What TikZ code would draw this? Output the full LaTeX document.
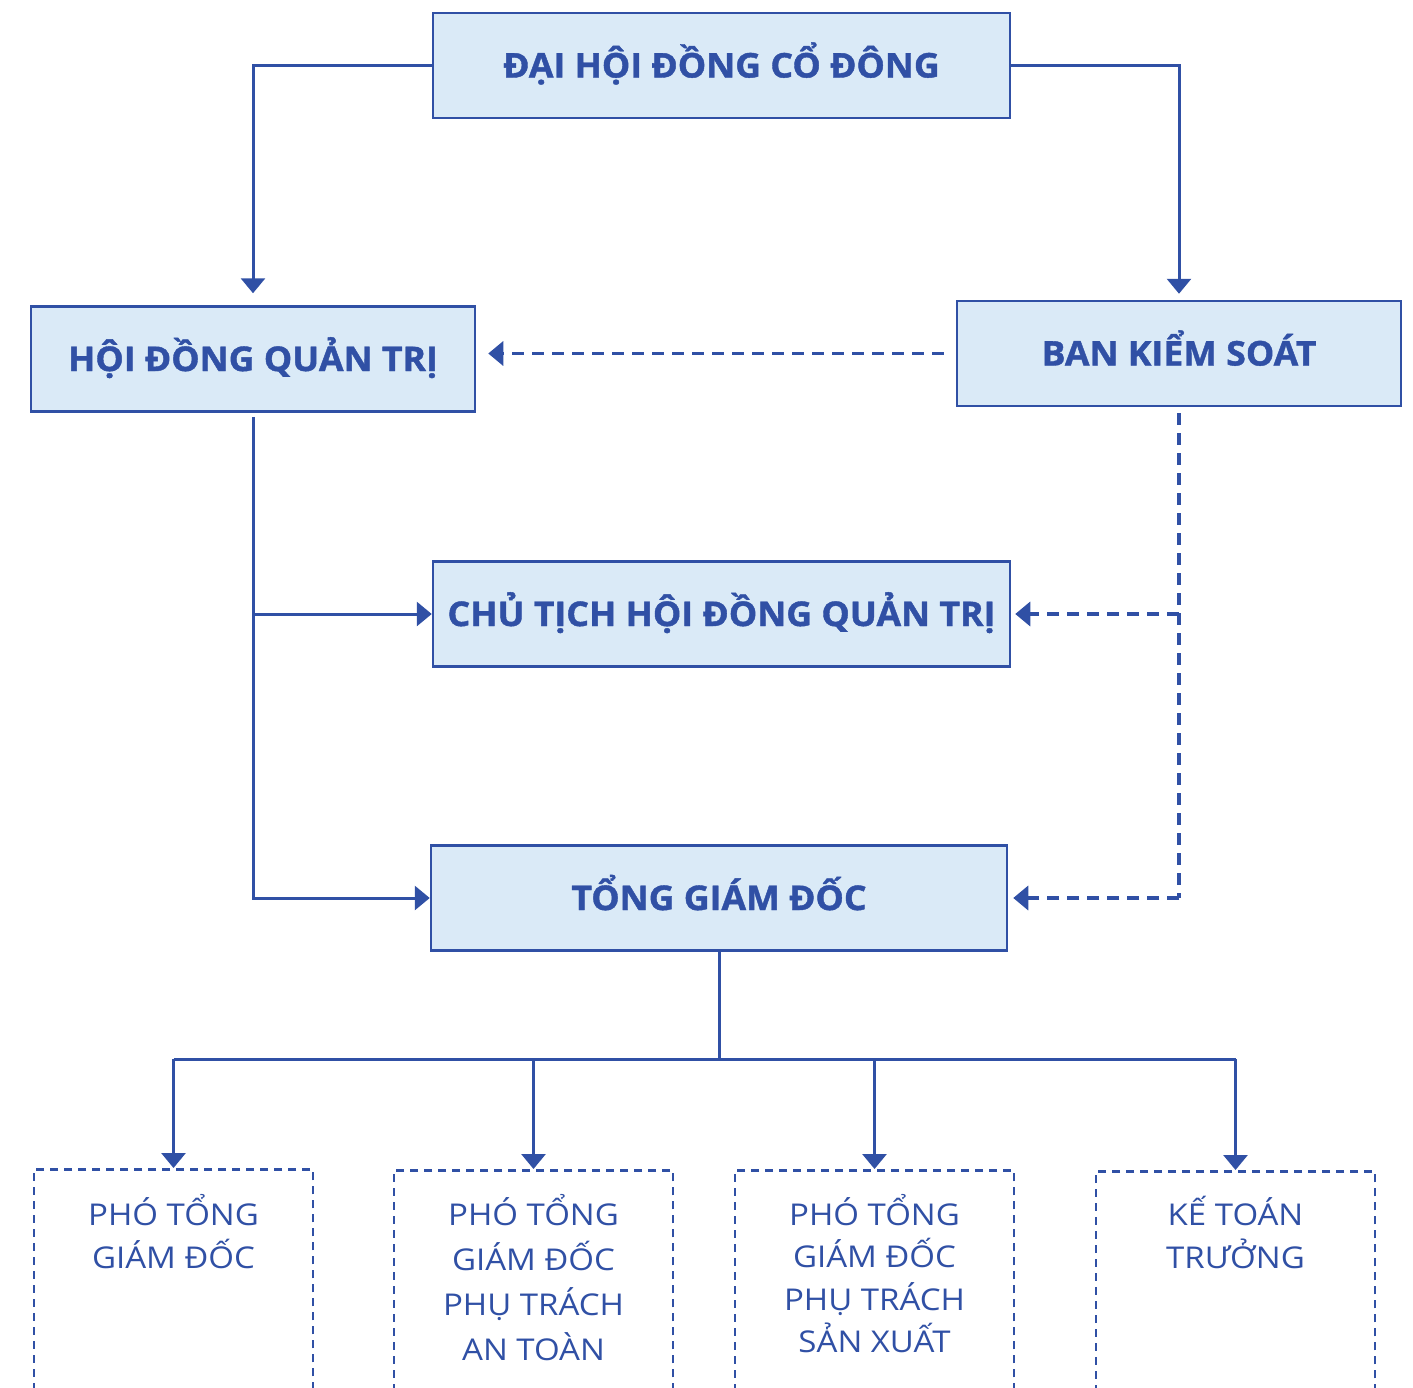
\documentclass[tikz,border=0pt]{standalone}
\usepackage{fontspec}
\setmainfont{Open Sans}[FakeStretch=1.1]
\newfontfamily\headfont{Open Sans}[FakeStretch=1.05, BoldFeatures={FakeBold=1.2}]
\usetikzlibrary{arrows.meta}
\definecolor{navy}{RGB}{48,80,165}
\definecolor{pale}{RGB}{218,234,247}
\begin{document}
\begin{tikzpicture}[x=1pt,y=-1pt,
  mainbox/.style={draw=navy, fill=pale, line width=2.5pt, inner sep=0pt,
    font=\headfont\bfseries\fontsize{34}{40}\selectfont, text=navy,
    text height=24pt, text depth=0pt, minimum height=105pt},
  subbox/.style={draw=navy, line width=2.5pt, dash pattern=on 8pt off 6pt,
    inner sep=0pt, minimum width=279pt, minimum height=320pt, anchor=north},
  subtext/.style={anchor=base, text=navy, inner sep=0pt},
  link/.style={draw=navy, line width=3pt, -{Triangle[width=24pt,length=15pt]}},
  plain/.style={draw=navy, line width=3pt},
  dlink/.style={draw=navy, line width=3.5pt, dash pattern=on 12pt off 8pt, -{Triangle[width=24pt,length=15pt]}},
  dplain/.style={draw=navy, line width=3.5pt, dash pattern=on 12pt off 8pt}
]
\clip (0,0) rectangle (1413,1387);
\fill[white] (0,0) rectangle (1413,1387);

\node[mainbox, minimum width=577pt] (dhd) at (721.5,65.5) {ĐẠI HỘI ĐỒNG CỔ ĐÔNG};
\node[mainbox, minimum width=444pt] (hdqt) at (253,359) {HỘI ĐỒNG QUẢN TRỊ};
\node[mainbox, minimum width=444pt] (bks) at (1179,353.5) {BAN KIỂM SOÁT};
\node[mainbox, minimum width=577pt] (ct) at (721.5,614) {CHỦ TỊCH HỘI ĐỒNG QUẢN TRỊ};
\node[mainbox, minimum width=576pt] (tgd) at (719,898) {TỔNG GIÁM ĐỐC};

\node[subbox] (p1) at (173.5,1168) {};
\node[subbox] (p2) at (533.5,1169) {};
\node[subbox] (p3) at (874.5,1169) {};
\node[subbox] (p4) at (1235.5,1170) {};

\node[subtext] (t1) at (173.5,1225) {\fontsize{30}{43}\selectfont\begin{tabular}[t]{@{}c@{}}PHÓ TỔNG\\GIÁM ĐỐC\end{tabular}};
\node[subtext] (t2) at (533.5,1225) {\fontsize{30}{45}\selectfont\begin{tabular}[t]{@{}c@{}}PHÓ TỔNG\\GIÁM ĐỐC\\PHỤ TRÁCH\\AN TOÀN\end{tabular}};
\node[subtext] (t3) at (874.5,1225) {\fontsize{30}{42.5}\selectfont\begin{tabular}[t]{@{}c@{}}PHÓ TỔNG\\GIÁM ĐỐC\\PHỤ TRÁCH\\SẢN XUẤT\end{tabular}};
\node[subtext] (t4) at (1235.5,1225) {\fontsize{30}{43}\selectfont\begin{tabular}[t]{@{}c@{}}KẾ TOÁN\\TRƯỞNG\end{tabular}};

% top connectors
\draw[link, shorten >=12pt] (dhd.west) -| (hdqt.north);
\draw[link, shorten >=6pt] (dhd.east) -| (bks.north);

% supervisory dashed
\draw[dlink, shorten <=12pt, shorten >=12pt] (bks.west) -- (bks.west -| hdqt.east);
\coordinate (bkscorner) at (bks.south |- tgd.east);
\draw[dplain, shorten <=6pt] (bks.south) -- (bkscorner);
\draw[dlink, shorten >=5pt] (bkscorner) -- (tgd.east);
\draw[dlink, shorten >=4pt] (bks.south |- ct.east) -- (ct.east);

% board connectors
\draw[link, shorten <=4pt] (hdqt.south) |- (tgd.west);
\draw[link] (hdqt.south |- ct.west) -- (ct.west);

% bus to bottom boxes
\coordinate (bus) at (720,1059);
\draw[plain] (tgd.south) -- (tgd.south |- bus);
\draw[plain] (p1.north |- bus) -- (p4.north |- bus);
\draw[link] (p1.north |- bus) -- (p1.north);
\draw[link] (p2.north |- bus) -- (p2.north);
\draw[link] (p3.north |- bus) -- (p3.north);
\draw[link] (p4.north |- bus) -- (p4.north);
\end{tikzpicture}
\end{document}
